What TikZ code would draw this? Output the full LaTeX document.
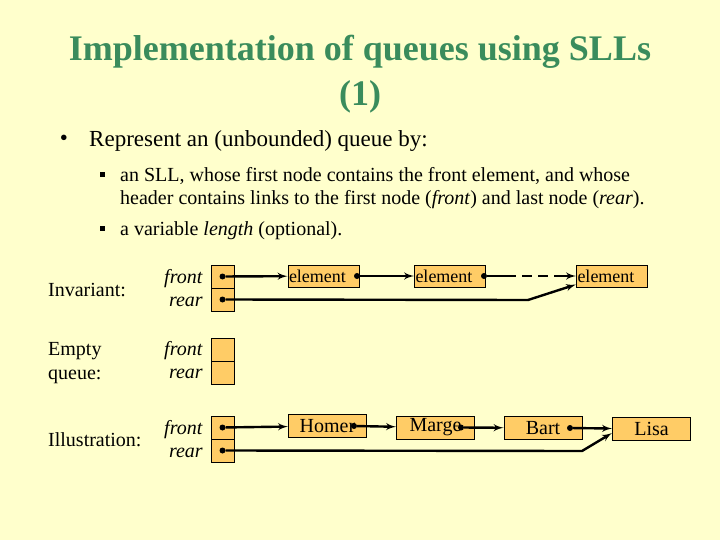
\documentclass[tikz,border=0pt]{standalone}
\usepackage{fontspec}
\setmainfont{Liberation Serif}
\usetikzlibrary{arrows}
\definecolor{slidebg}{RGB}{255,255,204}
\definecolor{titlegreen}{RGB}{58,140,92}
\definecolor{boxfill}{RGB}{255,204,102}

\begin{document}
\begin{tikzpicture}[x=1pt,y=-1pt]
\tikzset{cell/.style = {shape=rectangle,draw,line width=1pt,fill=boxfill,minimum width=23pt,minimum height=23pt,inner sep=0pt}}
\tikzset{elem/.style = {shape=rectangle,draw,line width=1pt,fill=boxfill,minimum height=22pt,inner sep=1pt,text width=69pt,align=left,font=\fontsize{18}{20}\selectfont}}
\tikzset{person/.style = {shape=rectangle,draw,line width=1pt,fill=boxfill,minimum width=78pt,minimum height=23pt,inner sep=0pt,font=\fontsize{20}{22}\selectfont}}
\tikzset{ptr/.style = {shape=circle,fill=black,minimum size=6pt,inner sep=0pt}}
\tikzset{link/.style = {-,line width=2.4pt}}
\tikzset{edge/.style = {-latex',line width=2.4pt}}
\tikzset{lbl/.style = {inner sep=0pt,font=\fontsize{20}{23}\selectfont}}
\tikzset{sq/.style = {shape=rectangle,fill=black,minimum size=5pt,inner sep=0pt}}
\tikzset{headline/.style = {inner sep=0pt,anchor=base,text=titlegreen,font=\fontsize{36}{40}\selectfont\bfseries}}
\fill[slidebg] (0,0) rectangle (720,540);
% title
\node[headline] (title) at (360,61) {Implementation of queues using SLLs};
\node[headline] (title2) at (360,106) {(1)};
% bullets
\node[inner sep=0pt,font=\fontsize{23}{26}\selectfont] (b1) at (64,140) {\textbullet};
\node[inner sep=0pt,anchor=base west,font=\fontsize{23}{26}\selectfont] (t1) at (89,147) {Represent an (unbounded) queue by:};
\node[sq] (b2) at (102,175) {};
\node[inner sep=0pt,anchor=base west,font=\fontsize{20}{23}\selectfont] (t2) at (120,182) {an SLL, whose first node contains the front element, and whose};
\node[inner sep=0pt,anchor=base west,font=\fontsize{20}{23}\selectfont] (t3) at (120,205) {header contains links to the first node (\textit{front}) and last node (\textit{rear}).};
\node[sq] (b3) at (102,229) {};
\node[inner sep=0pt,anchor=base west,font=\fontsize{20}{23}\selectfont] (t4) at (120,236) {a variable \textit{length} (optional).};
% invariant
\node[lbl,anchor=base west] (inv) at (48,296) {Invariant:};
\node[lbl,anchor=base east] (ifl) at (203,283) {\textit{front}};
\node[lbl,anchor=base east] (irl) at (203,306) {\textit{rear}};
\node[cell] (ifront) at (222.5,276.5) {};
\node[cell] (irear) at (222.5,299.5) {};
\node[ptr] (ifdot) at (222.5,276.5) {};
\node[ptr] (irdot) at (222.5,299.5) {};
\node[elem] (e1) at (323.5,276) {element};
\node[elem] (e2) at (450,276) {element};
\node[elem] (e3) at (612,276) {element};
\node[ptr] (d1) at (357,276) {};
\node[ptr] (d2) at (484,276) {};
\coordinate (gap1) at (506,276);
\coordinate (gap2) at (558,276);
\coordinate (ibend) at (528,300);
\draw[edge] (ifdot) -- (e1);
\draw[edge] (d1) -- (e2);
\draw[link] (d2) -- (gap1);
\draw[link,dash pattern=on 10pt off 6pt] (gap1) -- (gap2);
\draw[edge] (gap2) -- (e3);
\draw[edge] (irdot) -- (ibend) -- ([yshift=3pt]e3.south west);
% empty queue
\node[lbl,anchor=base west] (emp) at (48,355) {Empty};
\node[lbl,anchor=base west] (emq) at (48,379) {queue:};
\node[lbl,anchor=base east] (efl) at (203,355) {\textit{front}};
\node[lbl,anchor=base east] (erl) at (203,378) {\textit{rear}};
\node[cell] (efront) at (222.5,349.5) {};
\node[cell] (erear) at (222.5,372.5) {};
% illustration
\node[lbl,anchor=base west] (ill) at (48,446) {Illustration:};
\node[lbl,anchor=base east] (jfl) at (203,434) {\textit{front}};
\node[lbl,anchor=base east] (jrl) at (203,457) {\textit{rear}};
\node[cell] (jfront) at (222.5,427.5) {};
\node[cell] (jrear) at (222.5,450.5) {};
\node[ptr] (jfdot) at (222.5,427.5) {};
\node[ptr] (jrdot) at (222.5,450.5) {};
\node[person] (homer) at (327.5,426) {Homer};
\node[person] (marge) at (435.5,427.5) {Marge};
\node[person] (bart) at (543,428) {Bart};
\node[person] (lisa) at (651.5,429) {Lisa};
\node[ptr] (hdot) at (354,426) {};
\node[ptr] (mdot) at (461,427.5) {};
\node[ptr] (bdot) at (570,428) {};
\coordinate (jbend) at (582,451);
\draw[edge] (jfdot) -- (homer);
\draw[edge] (hdot) -- (marge);
\draw[edge] (mdot) -- (bart);
\draw[edge] (bdot) -- (lisa);
\draw[edge] (jrdot) -- (jbend) -- ([yshift=8pt]lisa.south west);
\end{tikzpicture}
\end{document}
